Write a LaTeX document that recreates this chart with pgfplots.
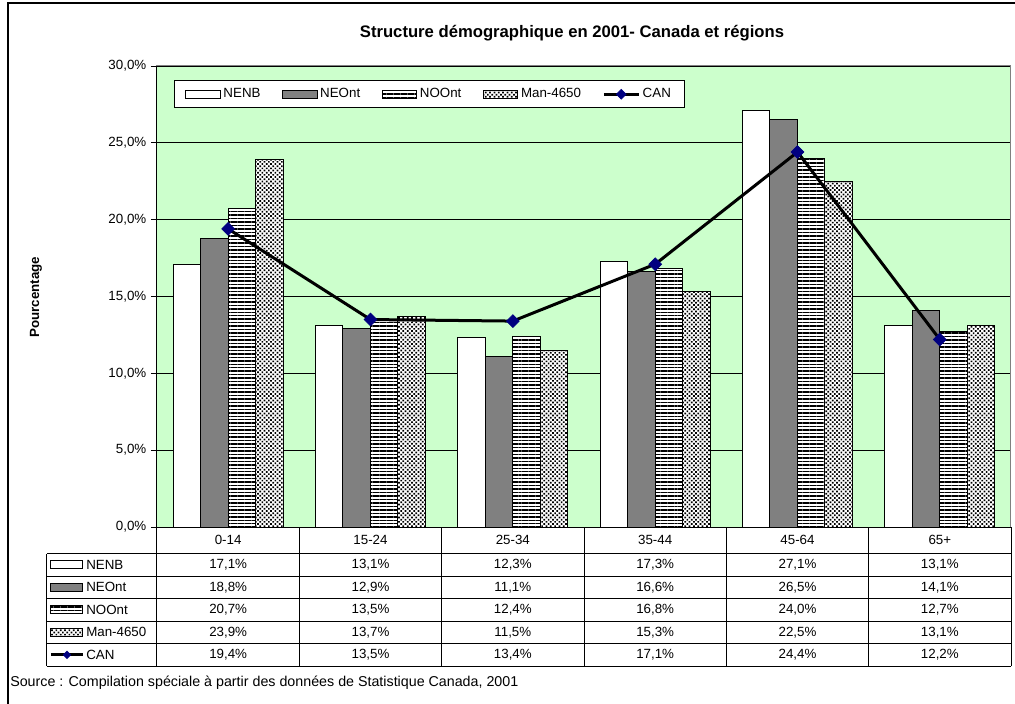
\documentclass[border=0pt]{standalone}
\usepackage{pgfplots}
\pgfplotsset{compat=1.18}
\usepackage{fontspec}
\setmainfont{Liberation Sans}
\usetikzlibrary{patterns.meta}
\definecolor{cgreen}{HTML}{CCFFCC}
\definecolor{cgray}{HTML}{808080}
\definecolor{cnavy}{HTML}{000080}
\tikzset{
  stripes/.style={preaction={fill=white}, pattern={Lines[angle=0,distance=2.6pt,line width=1.1pt]}, pattern color=black, draw=black},
  dotsp/.style={preaction={fill=white}, pattern={Dots[angle=45,distance=2.3pt,radius=0.9pt]}, pattern color=black, draw=black},
}
\pgfplotsset{
  barleg/.style={legend image code/.code={\draw[##1] (0pt,-3pt) rectangle (26pt,3pt);}},
  canleg/.style={legend image code/.code={\draw[##1, mark=none] (0pt,0pt) -- (26pt,0pt); \draw[##1, mark size=2.6pt] plot coordinates {(13pt,0pt)};}},
}
\newcommand{\trow}[7]{%
  \node at (228.17,#1) {#2};
  \node at (370.5,#1) {#3};
  \node at (512.83,#1) {#4};
  \node at (655.17,#1) {#5};
  \node at (797.5,#1) {#6};
  \node at (939.83,#1) {#7};
}
\begin{document}
\begin{tikzpicture}[font=\fontsize{10}{12}\selectfont]
\begin{axis}[
  at={(0pt,0pt)}, anchor=south west,
  scale only axis, width=640.5pt, height=345.75pt,
  xmin=-0.5, xmax=5.5, ymin=0, ymax=30,
  xtick=\empty,
  ytick={0,5,10,15,20,25,30},
  ytick pos=left, tick align=outside, major tick length=4.5pt,
  tick style={black, line width=0.6pt},
  yticklabel={\pgfmathprintnumber{\tick}\%},
  yticklabel style={/pgf/number format/.cd, fixed, fixed zerofill, precision=1, use comma, assume math mode=true},
  ymajorgrids, grid style={black, line width=0.6pt},
  axis background/.style={fill=cgreen},
  axis line style={draw=cgray, line width=0.75pt},
  legend columns=5,
  legend style={at={(0.0199,0.9696)}, anchor=north west, draw=black, fill=white, line width=0.75pt,
    font=\fontsize{10}{12}\selectfont, inner xsep=8pt, inner ysep=4pt,
    /tikz/every even column/.append style={column sep=14pt}},
  legend cell align=left,
  clip=false,
]
\addplot[ybar, bar width=0.1932, bar shift=-0.2898, draw=black, line width=0.75pt, fill=white, barleg]
  coordinates {(0,17.1) (1,13.1) (2,12.3) (3,17.3) (4,27.1) (5,13.1)};
\addplot[ybar, bar width=0.1932, bar shift=-0.0966, draw=black, line width=0.75pt, fill=cgray, barleg]
  coordinates {(0,18.8) (1,12.9) (2,11.1) (3,16.6) (4,26.5) (5,14.1)};
\addplot[ybar, bar width=0.1932, bar shift=0.0966, line width=0.75pt, stripes, barleg]
  coordinates {(0,20.7) (1,13.5) (2,12.4) (3,16.8) (4,24.0) (5,12.7)};
\addplot[ybar, bar width=0.1932, bar shift=0.2898, line width=0.75pt, dotsp, barleg]
  coordinates {(0,23.9) (1,13.7) (2,11.5) (3,15.3) (4,22.5) (5,13.1)};
\addplot[black, line width=2.25pt, mark=square*, mark size=3.4pt,
  mark options={fill=cnavy, draw=cnavy, rotate=45, line width=0.5pt}, canleg]
  coordinates {(0,19.4) (1,13.5) (2,13.4) (3,17.1) (4,24.4) (5,12.2)};
\legend{NENB,NEOnt,NOOnt,Man-4650,CAN}
\draw[black, line width=0.75pt] (rel axis cs:0,0) -- (rel axis cs:0,1);
\end{axis}
\begin{scope}[x=0.75pt, y=0.75pt, shift={(-117.75pt,-132.75pt)}]
  \path[use as bounding box] (0,0) rectangle (1015,704);
  \draw[black, line width=1pt] (8,0) -- (8,701) -- (1015,701);
  \node[font=\bfseries\fontsize{12.5}{14}\selectfont] at (572,671) {Structure démographique en 2001- Canada et régions};
  \node[font=\bfseries\fontsize{10}{12}\selectfont, rotate=90] at (36,407) {Pourcentage};
  \node[anchor=west, inner sep=0pt, font=\fontsize{10.7}{12}\selectfont] at (10,21) {Source : Compilation spéciale à partir des données de Statistique Canada, 2001};
  % table grid
  \draw[black, line width=0.75pt] (157,177) -- (1011,177);
  \foreach \yy in {150.5,128,105.5,83,60.5,38} {\draw[black, line width=0.75pt] (47,\yy) -- (1011,\yy);}
  \draw[black, line width=0.75pt] (47,38) -- (47,150.5);
  \foreach \xx in {157,299.33,441.67,584,726.33,868.67,1011} {\draw[black, line width=0.75pt] (\xx,38) -- (\xx,177);}
  % header
  \trow{163.75}{0-14}{15-24}{25-34}{35-44}{45-64}{65+}
  \trow{139.25}{17,1\%}{13,1\%}{12,3\%}{17,3\%}{27,1\%}{13,1\%}
  \trow{116.75}{18,8\%}{12,9\%}{11,1\%}{16,6\%}{26,5\%}{14,1\%}
  \trow{94.25}{20,7\%}{13,5\%}{12,4\%}{16,8\%}{24,0\%}{12,7\%}
  \trow{71.75}{23,9\%}{13,7\%}{11,5\%}{15,3\%}{22,5\%}{13,1\%}
  \trow{49.25}{19,4\%}{13,5\%}{13,4\%}{17,1\%}{24,4\%}{12,2\%}
  % row keys
  \draw[black, line width=0.75pt, fill=white] (51,135.25) rectangle (83,143.25);
  \draw[black, line width=0.75pt, fill=cgray] (51,112.75) rectangle (83,120.75);
  \draw[stripes, line width=0.75pt] (51,90.25) rectangle (83,98.25);
  \draw[dotsp, line width=0.75pt] (51,67.75) rectangle (83,75.75);
  \draw[black, line width=2.25pt] (51,49.25) -- (83,49.25);
  \fill[cnavy] (67,53.5) -- (71.25,49.25) -- (67,45) -- (62.75,49.25) -- cycle;
  \node[anchor=west, inner sep=0pt] at (86,139.25) {NENB};
  \node[anchor=west, inner sep=0pt] at (86,116.75) {NEOnt};
  \node[anchor=west, inner sep=0pt] at (86,94.25) {NOOnt};
  \node[anchor=west, inner sep=0pt] at (86,71.75) {Man-4650};
  \node[anchor=west, inner sep=0pt] at (86,49.25) {CAN};
\end{scope}
\end{tikzpicture}
\end{document}
